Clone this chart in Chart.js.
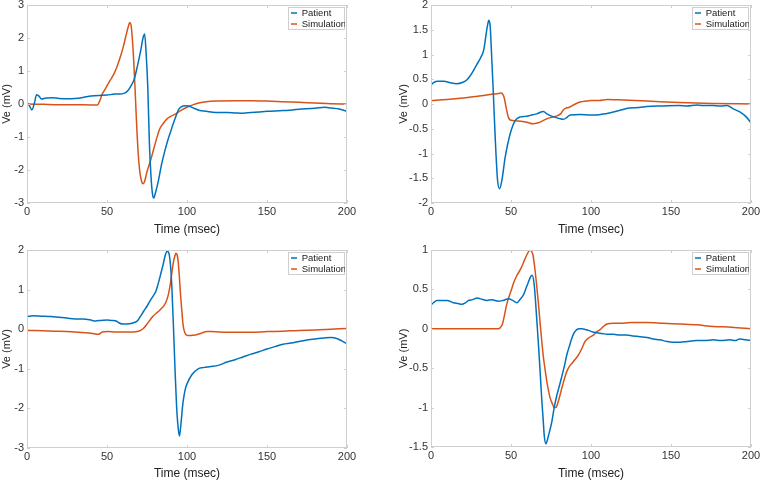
<!DOCTYPE html>
<html><head><meta charset="utf-8">
<script src="https://cdn.jsdelivr.net/npm/chart.js@4/dist/chart.umd.min.js"></script>
<style>
html,body{margin:0;padding:0;background:#fff;}
#wrap{position:relative;width:760px;height:482px;background:#fff;}
canvas{position:absolute;}
</style></head><body>
<div id="wrap">
<canvas id="c1" width="380" height="241" style="left:0;top:0"></canvas>
<canvas id="c2" width="380" height="241" style="left:380px;top:0"></canvas>
<canvas id="c3" width="380" height="241" style="left:0;top:241px"></canvas>
<canvas id="c4" width="380" height="241" style="left:380px;top:241px"></canvas>
</div>
<script>
const seriesNames = ['Patient', 'Simulation'];
const xTicks = [0, 50, 100, 150, 200];
const p1YTicks = [-3, -2, -1, 0, 1, 2, 3];
const p2YTicks = [-2, -1.5, -1, -0.5, 0, 0.5, 1, 1.5, 2];
const p3YTicks = [-3, -2, -1, 0, 1, 2];
const p4YTicks = [-1.5, -1, -0.5, 0, 0.5, 1];

// Panel 1 (top-left)
const p1PatientT = [0,1.5,3,4.5,6,7.5,9,12,16,20,25,30,35,40,45,50,55,58,61,63,65,67,69,71,72.5,73.5,74.5,75.5,76.5,77.5,78.5,79.2,80.5,82,84,86,88,90,92.5,95,97.5,100,104,108,112,116,120,125,130,135,140,145,150,160,170,180,186,190,195,200];
const p1PatientV = [0.03,-0.05,-0.18,0.0,0.28,0.24,0.15,0.18,0.19,0.17,0.16,0.17,0.2,0.24,0.26,0.27,0.3,0.3,0.33,0.4,0.55,0.75,1.15,1.6,2.0,2.12,1.5,0.5,-1.2,-2.2,-2.75,-2.85,-2.65,-2.35,-1.85,-1.45,-1.1,-0.8,-0.45,-0.15,-0.06,-0.05,-0.12,-0.2,-0.22,-0.25,-0.26,-0.26,-0.27,-0.28,-0.26,-0.24,-0.22,-0.2,-0.16,-0.13,-0.1,-0.12,-0.15,-0.22];
const p1SimT = [0,10,20,30,40,44,45.5,47,48.5,50,52,54,56,58,60,62,63.5,64.2,65,65.8,66.7,67.5,68.5,69.5,70.5,71.5,72.5,73.5,75,77,79,81,83,85,87.5,90,93,96,100,104,108,112,120,130,140,150,160,170,180,190,200];
const p1SimV = [0,-0.01,-0.02,-0.02,-0.03,-0.03,0.1,0.3,0.42,0.55,0.72,0.88,1.1,1.38,1.7,2.1,2.38,2.47,2.4,2.0,1.3,0.5,-0.6,-1.5,-2.05,-2.32,-2.42,-2.35,-2.05,-1.75,-1.4,-1.05,-0.75,-0.6,-0.45,-0.37,-0.3,-0.2,-0.1,-0.02,0.04,0.07,0.09,0.1,0.1,0.09,0.07,0.05,0.03,0.01,0.0];

// Panel 2 (top-right)
const p2PatientT = [0,2,4,8,12,16,20,22.5,24.5,26.6,28.7,30.8,33,34.5,35.5,36.2,37,38,38.7,40.2,41.6,42.9,44.3,46.4,49.5,52.7,55.8,59,62,66,70.3,72.4,76.6,80,82.8,85,87,93,100,104,110,114,120,124,130,135,145,155,160,166,170,176,181,185,189,193,197,200];
const p2PatientV = [0.39,0.44,0.46,0.46,0.43,0.41,0.44,0.49,0.57,0.68,0.8,0.92,1.1,1.42,1.62,1.69,1.56,0.9,0.41,-0.73,-1.54,-1.71,-1.54,-1.07,-0.6,-0.33,-0.26,-0.25,-0.23,-0.2,-0.15,-0.2,-0.26,-0.29,-0.31,-0.27,-0.22,-0.21,-0.22,-0.22,-0.19,-0.16,-0.11,-0.08,-0.07,-0.05,-0.04,-0.03,-0.04,-0.02,-0.03,-0.03,-0.04,-0.03,-0.1,-0.16,-0.26,-0.38];
const p2SimT = [0,10,20,30,39,42,43.7,44.8,45.8,47,48.5,50,53,56,60,63.7,67,70.3,74,78.7,81,82.5,84,86,89,93.2,97,100,105,110,120,135,155,176,200];
const p2SimV = [0.07,0.09,0.12,0.16,0.2,0.21,0.22,0.2,0.12,-0.08,-0.28,-0.33,-0.34,-0.35,-0.37,-0.4,-0.38,-0.33,-0.28,-0.24,-0.2,-0.13,-0.09,-0.07,-0.02,0.04,0.06,0.07,0.07,0.09,0.08,0.06,0.03,0.01,0.0];

// Panel 3 (bottom-left)
const p3PatientT = [0,4,9,15,20,25,30,35,40,42,45,50,53,56,58,60,64,67,69,71,73,75,77,79,80.5,82,83.5,85,86.5,87.5,88.7,90,90.7,91.5,92.5,93.5,94.5,95.3,96.2,97.5,99,100,103,107,110,115,119,125,130,135,140,145,150,155,160,165,170,175,181,186,190,194,197,200];
const p3PatientV = [0.32,0.34,0.33,0.32,0.3,0.28,0.26,0.26,0.23,0.21,0.22,0.23,0.22,0.2,0.15,0.13,0.14,0.17,0.21,0.33,0.46,0.58,0.72,0.85,0.95,1.15,1.38,1.62,1.88,1.97,1.92,1.45,0.9,0.1,-1.0,-1.95,-2.5,-2.7,-2.4,-1.85,-1.5,-1.38,-1.15,-1.0,-0.97,-0.94,-0.92,-0.83,-0.77,-0.7,-0.63,-0.57,-0.5,-0.44,-0.38,-0.35,-0.31,-0.27,-0.24,-0.22,-0.21,-0.24,-0.3,-0.37];
const p3SimT = [0,10,20,30,40,44.8,47,50,56,62,66.7,69,71,73,75,77,79,81,82.5,84,85.5,87,88.5,89.6,90.6,91.7,92.5,93.1,93.8,94.5,95.2,95.9,96.7,97.5,98.3,99.2,100.5,102,104,106,109,112.5,115,120,130,140,150,160,170,180,190,200];
const p3SimV = [-0.03,-0.04,-0.05,-0.07,-0.1,-0.13,-0.07,-0.06,-0.07,-0.07,-0.07,-0.06,-0.03,0.03,0.13,0.24,0.34,0.41,0.46,0.52,0.59,0.7,0.9,1.15,1.45,1.73,1.86,1.92,1.88,1.7,1.35,0.9,0.5,0.13,-0.05,-0.13,-0.16,-0.16,-0.15,-0.14,-0.1,-0.06,-0.06,-0.07,-0.08,-0.08,-0.06,-0.05,-0.03,-0.02,0.0,0.02];

// Panel 4 (bottom-right)
const p4PatientT = [0,1.5,3.7,7,10,14,17,19.4,21.5,23.5,26,28.7,31,35,38,42.2,45,48.5,51,53.7,55.5,57.8,59.5,61,62.2,63.2,64.5,65.5,66.2,67,67.8,68.6,69.3,70.1,70.8,71.8,72.6,73.5,75.5,77,78.7,80.3,81.8,83.4,84.9,86.5,88,89.5,91.1,92.7,94.3,96.5,98.4,101,103.6,107,110,114,118,122,126,130.7,135,139,143,147.3,151,155.7,160,166,171,176.5,181,186.8,190,193,196.5,200];
const p4PatientV = [0.3,0.33,0.36,0.36,0.36,0.33,0.32,0.31,0.33,0.36,0.37,0.39,0.38,0.36,0.37,0.35,0.36,0.38,0.36,0.33,0.37,0.43,0.52,0.6,0.66,0.68,0.56,0.3,0.09,-0.15,-0.41,-0.68,-0.92,-1.15,-1.36,-1.46,-1.42,-1.35,-1.18,-1.0,-0.84,-0.72,-0.6,-0.47,-0.33,-0.22,-0.12,-0.05,-0.01,0.0,0.0,-0.01,-0.02,-0.04,-0.05,-0.06,-0.07,-0.07,-0.08,-0.08,-0.09,-0.1,-0.11,-0.13,-0.14,-0.16,-0.17,-0.17,-0.16,-0.15,-0.15,-0.14,-0.15,-0.14,-0.15,-0.13,-0.14,-0.15];
const p4SimT = [0,20,42,43.5,44.8,46,47.2,48.5,50,51.6,53.5,55.8,58,59.9,61,61.7,62.6,63.7,64.7,65.8,67,68.3,69.3,70.3,71.4,72.4,73.5,74.5,75.8,77,78,79,80.4,81.8,83.3,84.9,86.4,88,90,92.2,94.3,96.3,99,101.5,103.5,105.7,107.8,110,114,118,125,134.9,145,155.7,166,176.5,188,200];
const p4SimV = [0,0,0,0.02,0.07,0.18,0.3,0.39,0.48,0.58,0.67,0.75,0.85,0.94,0.98,1.0,0.99,0.94,0.8,0.6,0.35,0.05,-0.17,-0.37,-0.53,-0.67,-0.79,-0.88,-0.95,-1.0,-1.0,-0.96,-0.86,-0.75,-0.64,-0.54,-0.48,-0.44,-0.39,-0.33,-0.25,-0.16,-0.11,-0.08,-0.04,-0.01,0.03,0.06,0.07,0.07,0.08,0.08,0.07,0.06,0.05,0.03,0.02,0.0];

const BLUE = '#0072BD', ORANGE = '#D95319';
const FONT = "'Liberation Sans', Arial, Helvetica, sans-serif";
const FRAME = '#cfcfcf';

function pts(t, v) { return t.map((x, i) => ({x: x, y: v[i]})); }

const matlabPlugin = {
  id: 'matlabFrame',
  afterLayout(chart) {
    const a = chart.chartArea, lg = chart.legend;
    if (!lg) return;
    lg.left = a.right - 57.5; lg.right = a.right - 2;
    lg.top = a.top + 1.8; lg.bottom = lg.top + 40;
    lg.width = lg.right - lg.left; lg.height = 40;
  },
  beforeDraw(chart) {
    const a = chart.chartArea, c = chart.ctx;
    c.save();
    c.fillStyle = '#fff';
    c.strokeStyle = FRAME; c.lineWidth = 1;
    const x = Math.round(a.right - 59) + 0.5, y = Math.round(a.top + 2) + 0.5;
    c.fillRect(x, y, 56, 22);
    c.strokeRect(x, y, 56, 22);
    c.restore();
  },
  afterDatasetsDraw(chart) {
    const a = chart.chartArea, c = chart.ctx;
    const sx = chart.scales.x, sy = chart.scales.y;
    c.save();
    c.strokeStyle = FRAME; c.lineWidth = 1;
    c.strokeRect(Math.round(a.left) + 0.5, Math.round(a.top) + 0.5, Math.round(a.right - a.left) - 1, Math.round(a.bottom - a.top) - 1);
    c.beginPath();
    sx.ticks.forEach(tk => {
      const px = Math.round(sx.getPixelForValue(tk.value)) + 0.5;
      c.moveTo(px, a.bottom); c.lineTo(px, a.bottom - 3);
      c.moveTo(px, a.top); c.lineTo(px, a.top + 3);
    });
    sy.ticks.forEach(tk => {
      const py = Math.round(sy.getPixelForValue(tk.value)) + 0.5;
      c.moveTo(a.left, py); c.lineTo(a.left + 3, py);
      c.moveTo(a.right, py); c.lineTo(a.right - 3, py);
    });
    c.stroke();
    c.restore();
  }
};

function makeChart(id, pT, pV, sT, sV, yTicks, L, R, T, H, xtp, ytp) {
  new Chart(document.getElementById(id), {
    type: 'line',
    data: {
      datasets: [
        {label: seriesNames[0], data: pts(pT, pV), borderColor: BLUE, backgroundColor: BLUE, borderWidth: 1.5, pointRadius: 0, cubicInterpolationMode: 'monotone', fill: false},
        {label: seriesNames[1], data: pts(sT, sV), borderColor: ORANGE, backgroundColor: ORANGE, borderWidth: 1.5, pointRadius: 0, cubicInterpolationMode: 'monotone', fill: false}
      ]
    },
    plugins: [matlabPlugin],
    options: {
      responsive: false, animation: false, devicePixelRatio: 1,
      layout: {padding: {left: 0, right: R, top: T, bottom: 0}, autoPadding: false},
      plugins: {
        tooltip: {enabled: false},
        legend: {
          display: true, position: 'chartArea', align: 'start',
          labels: {usePointStyle: true, pointStyle: 'line', pointStyleWidth: 6, boxHeight: 9.5, padding: 1.5,
                   color: '#1a1a1a', font: {family: FONT, size: 9.5}}
        }
      },
      scales: {
        x: {
          type: 'linear', min: 0, max: 200,
          afterBuildTicks: s => { s.ticks = xTicks.map(v => ({value: v})); },
          ticks: {color: '#333', padding: 2, maxRotation: 0, minRotation: 0, autoSkip: false, font: {family: FONT, size: 11}, callback: v => String(v)},
          grid: {display: false, drawTicks: false},
          border: {display: false},
          title: {display: true, text: 'Time (msec)', color: '#222', font: {family: FONT, size: 12}, padding: {top: 0, bottom: xtp}},
          afterFit: s => { s.height = H; s.paddingLeft = 0; s.paddingRight = 0; }
        },
        y: {
          type: 'linear', min: yTicks[0], max: yTicks[yTicks.length - 1],
          afterBuildTicks: s => { s.ticks = yTicks.map(v => ({value: v})); },
          ticks: {color: '#333', padding: 3, autoSkip: false, font: {family: FONT, size: 11}, callback: v => String(v)},
          grid: {display: false, drawTicks: false},
          border: {display: false},
          title: {display: true, text: 'Ve (mV)', color: '#222', font: {family: FONT, size: 11}, padding: {top: ytp, bottom: 0}},
          afterFit: s => { s.width = L; s.paddingTop = 0; s.paddingBottom = 0; }
        }
      }
    }
  });
}

makeChart('c1', p1PatientT, p1PatientV, p1SimT, p1SimV, p1YTicks, 27, 33, 5, 38, 4, 0);
makeChart('c2', p2PatientT, p2PatientV, p2SimT, p2SimV, p2YTicks, 51, 9, 5, 38, 4, 17);
makeChart('c3', p3PatientT, p3PatientV, p3SimT, p3SimV, p3YTicks, 27, 33, 9, 34, 1, 0);
makeChart('c4', p4PatientT, p4PatientV, p4SimT, p4SimV, p4YTicks, 51, 9, 9, 35, 1, 17);
</script>
</body></html>
